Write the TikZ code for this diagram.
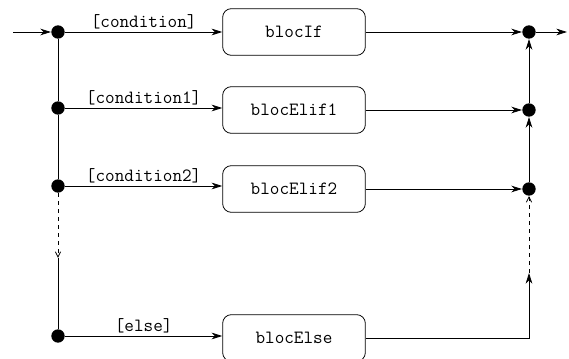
\documentclass[tikz,border=0pt]{standalone}
\usetikzlibrary{arrows.meta,positioning}

\begin{document}
\begin{tikzpicture}[x=0.75pt,y=-0.75pt,
    font=\ttfamily\fontsize{14}{16}\selectfont,
    >={Stealth[length=8pt,width=5pt,inset=2.5pt]},
    line width=0.6pt,
    junction/.style={circle,fill,inner sep=0pt,minimum size=10pt},
    bloc/.style={draw,rounded corners=6.5pt,minimum width=107pt,minimum height=35pt},
    guard/.style={above,inner sep=2pt},
    etc/.style={dashed,-{Straight Barb[length=4pt,width=4pt]}}
  ]
  \useasboundingbox (0,0) rectangle (569,359);
  % entry side
  \coordinate (in) at (13,32);
  \node[junction] (c0) at (58,32) {};
  \node[junction] (c1) at (58,108) {};
  \node[junction] (c2) at (58,186) {};
  \node[junction] (c3) at (58,336) {};
  \coordinate (skip) at (58,258);
  % blocks
  \node[bloc] (if) at (294,32) {blocIf};
  \node[bloc] (elif1) at (294,110) {blocElif1};
  \node[bloc] (elif2) at (294,189) {blocElif2};
  \node[bloc] (else) at (294,338) {blocElse};
  % exit side
  \node[junction] (j0) at (529,32) {};
  \node[junction] (j1) at (529,110) {};
  \node[junction] (j2) at (529,189) {};
  \coordinate (back) at (529,273);
  \coordinate (out) at (567,32);

  \draw[->] (in) -- (c0);
  \draw (c0) -- (c1) -- (c2);
  \draw[etc] (c2) -- (skip);
  \draw (skip) -- (c3);
  \draw[->] (c0) -- node[guard] {[condition]} (c0 -| if.west);
  \draw[->] (c1) -- node[guard] {[condition1]} (c1 -| elif1.west);
  \draw[->] (c2) -- node[guard] {[condition2]} (c2 -| elif2.west);
  \draw[->] (c3) -- node[guard] {[else]} (c3 -| else.west);

  \draw[->] (if.east) -- (j0);
  \draw[->] (elif1.east) -- (j1);
  \draw[->] (elif2.east) -- (j2);
  \draw[->] (else.east) -| (back);
  \draw[etc] (back) -- (j2);
  \draw[->] (j2) -- (j1);
  \draw[->] (j1) -- (j0);
  \draw[->] (j0) -- (out);
\end{tikzpicture}
\end{document}
